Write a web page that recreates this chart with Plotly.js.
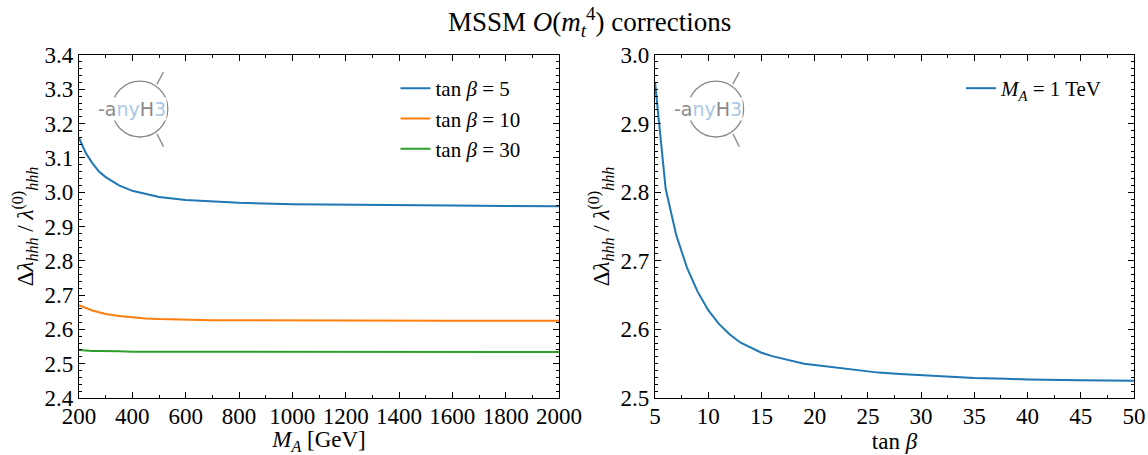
<!DOCTYPE html>
<html>
<head>
<meta charset="utf-8">
<script src="https://cdn.plot.ly/plotly-3.0.1.min.js"></script>
<style>html,body{margin:0;padding:0;background:#fff;}#chart{width:1148px;height:455px;}</style>
</head>
<body>
<div id="chart"></div>
<script>
// ---- data ----
const mA = [200, 225, 250, 275, 300, 350, 400, 450, 500, 600, 700, 800, 1000, 1200, 1400, 1600, 1800, 2000];
const tb5  = [3.158, 3.115, 3.085, 3.060, 3.044, 3.020, 3.004, 2.994, 2.986, 2.977, 2.972, 2.969, 2.965, 2.963, 2.962, 2.961, 2.960, 2.959];
const tb10 = [2.671, 2.662, 2.655, 2.650, 2.645, 2.639, 2.635, 2.632, 2.630, 2.628, 2.627, 2.627, 2.626, 2.626, 2.625, 2.625, 2.625, 2.625];
const tb30 = [2.540, 2.538, 2.537, 2.537, 2.536, 2.536, 2.535, 2.535, 2.535, 2.535, 2.535, 2.535, 2.534, 2.534, 2.534, 2.534, 2.534, 2.534];
const seriesLeftNames = ["tan <i>β</i> = 5", "tan <i>β</i> = 10", "tan <i>β</i> = 30"];

const tanb = [5, 5.5, 6, 7, 8, 9, 10, 11, 12, 13, 14, 15, 16, 17, 18, 19, 20, 22, 24, 26, 28, 30, 32, 35, 38, 40, 45, 50];
const ma1TeV = [2.960, 2.885, 2.805, 2.737, 2.690, 2.655, 2.628, 2.608, 2.593, 2.581, 2.573, 2.566, 2.561, 2.557, 2.553, 2.550, 2.548, 2.544, 2.540, 2.537, 2.535, 2.533, 2.531, 2.529, 2.528, 2.527, 2.526, 2.525];
const seriesRightName = "<i>M<sub>A</sub></i> = 1 TeV";

const colors = ["#1f77b4", "#ff7f0e", "#2ca02c"];
const FONT = "Liberation Serif, DejaVu Serif, serif";
const FS = 23;
const LFS = 21;

const traces = [
  {x: mA, y: tb5,  name: seriesLeftNames[0], line: {color: colors[0], width: 2}, xaxis: "x", yaxis: "y", legend: "legend"},
  {x: mA, y: tb10, name: seriesLeftNames[1], line: {color: colors[1], width: 2}, xaxis: "x", yaxis: "y", legend: "legend"},
  {x: mA, y: tb30, name: seriesLeftNames[2], line: {color: colors[2], width: 2}, xaxis: "x", yaxis: "y", legend: "legend"},
  {x: tanb, y: ma1TeV, name: seriesRightName, line: {color: colors[0], width: 2}, xaxis: "x2", yaxis: "y2", legend: "legend2"}
].map(t => Object.assign({type: "scatter", mode: "lines"}, t));

function axisBase() {
  return {
    showline: true, linecolor: "#000", linewidth: 1.2, mirror: "allticks",
    ticks: "inside", ticklen: 6, tickwidth: 1, tickcolor: "#000",
    showgrid: false, zeroline: false,
    tickfont: {family: FONT, size: FS, color: "#000"}
  };
}
const YTITLE = "Δ<i>λ<sub>hhh</sub></i> / <i>λ</i><sup>(0)</sup><i><sub>hhh</sub></i>";

const xL = Object.assign(axisBase(), {domain: [0, 0.455], range: [200, 2000], tick0: 200, dtick: 200, ticklabelstandoff: -3,
  minor: {dtick: 100, ticks: "inside", ticklen: 3, tickcolor: "#000", showgrid: false},
  title: {text: "<i>M<sub>A</sub></i> [GeV]", font: {family: FONT, size: FS, color: "#000"}, standoff: 5}, anchor: "y"});
const yL = Object.assign(axisBase(), {domain: [0, 1], range: [2.4, 3.4], dtick: 0.1, tickformat: ".1f",
  minor: {dtick: 0.02, ticks: "inside", ticklen: 3, tickcolor: "#000", showgrid: false},
  title: {text: YTITLE, font: {family: FONT, size: FS, color: "#000"}, standoff: 4}, anchor: "x"});
const xR = Object.assign(axisBase(), {domain: [0.546, 1], range: [5, 50], tick0: 5, dtick: 5, ticklabelstandoff: -3,
  minor: {dtick: 2.5, ticks: "inside", ticklen: 3, tickcolor: "#000", showgrid: false},
  title: {text: "tan <i>β</i>", font: {family: FONT, size: FS, color: "#000"}, standoff: 5}, anchor: "y2"});
const yR = Object.assign(axisBase(), {domain: [0, 1], range: [2.5, 3.0], dtick: 0.1, tickformat: ".1f",
  minor: {dtick: 0.01, ticks: "inside", ticklen: 3, tickcolor: "#000", showgrid: false},
  title: {text: YTITLE, font: {family: FONT, size: FS, color: "#000"}, standoff: 4}, anchor: "x2"});

// anyH3 logo (decoration) in each panel, in axis-domain coordinates
function logo(xs, ys) {
  const gray = "#8a8a8a";
  return [
    {type: "circle", xref: xs + " domain", yref: ys + " domain", x0: 0.069, x1: 0.185, y0: 0.761, y1: 0.924, line: {color: gray, width: 1.3}},
    {type: "line", xref: xs + " domain", yref: ys + " domain", x0: 0.1625, x1: 0.176, y0: 0.915, y1: 0.950, line: {color: gray, width: 1.3}},
    {type: "line", xref: xs + " domain", yref: ys + " domain", x0: 0.1625, x1: 0.176, y0: 0.770, y1: 0.733, line: {color: gray, width: 1.3}}
  ];
}
function logoText(xs, ys) {
  return {xref: xs + " domain", yref: ys + " domain", x: 0.11, y: 0.843, xanchor: "center", yanchor: "middle", showarrow: false,
    text: "-a<span style='color:#a9c8e6'>ny</span>H<span style='color:#a9c8e6'>3</span>",
    font: {family: "DejaVu Sans, sans-serif", size: 19, color: "#8a8a8a"}, bgcolor: "#fff", borderpad: 0};
}

const layout = {
  width: 1148, height: 455,
  margin: {l: 79, r: 14, t: 55, b: 57},
  paper_bgcolor: "#fff", plot_bgcolor: "#fff",
  font: {family: FONT, size: FS, color: "#000"},
  title: {text: "MSSM <i>O</i>(<i>m</i><sub><i>t</i></sub><sup>4</sup>) corrections", font: {family: FONT, size: 27, color: "#000"},
    x: 0.484, xref: "paper", xanchor: "center", y: 0.952, yanchor: "middle"},
  xaxis: xL, yaxis: yL, xaxis2: xR, yaxis2: yR,
  legend: {x: 0.300, y: 0.962, xanchor: "left", yanchor: "top", bgcolor: "rgba(0,0,0,0)", borderwidth: 0,
    font: {family: FONT, size: LFS, color: "#000"}, tracegroupgap: 0},
  legend2: {x: 0.836, y: 0.962, xanchor: "left", yanchor: "top", bgcolor: "rgba(0,0,0,0)", borderwidth: 0,
    font: {family: FONT, size: LFS, color: "#000"}},
  shapes: logo("x", "y").concat(logo("x2", "y2")),
  annotations: [logoText("x", "y"), logoText("x2", "y2")]
};

Plotly.newPlot("chart", traces, layout, {displayModeBar: false, staticPlot: true});
</script>
</body>
</html>
